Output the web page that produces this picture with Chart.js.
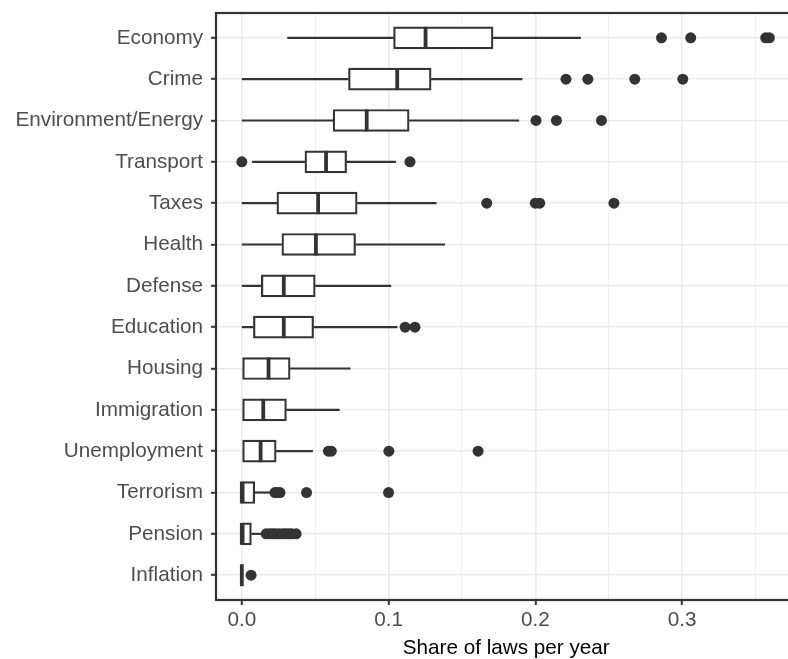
<!DOCTYPE html>
<html>
<head>
<meta charset="utf-8">
<script src="https://cdn.jsdelivr.net/npm/chart.js@4.4.1/dist/chart.umd.min.js"></script>
<style>
  html, body { margin: 0; padding: 0; background: #fff; overflow: hidden; width: 788px; height: 659px; }
  #wrap { width: 802px; height: 659px; }
</style>
</head>
<body>
<div id="wrap"><canvas id="c" width="802" height="659"></canvas></div>
<script>
// Topics, top to bottom
const topics = ['Economy', 'Crime', 'Environment/Energy', 'Transport', 'Taxes', 'Health', 'Defense',
  'Education', 'Housing', 'Immigration', 'Unemployment', 'Terrorism', 'Pension', 'Inflation'];

// Five-number summaries of the yearly share of laws
const lowerWhisker = [0.031, 0, 0, 0.007, 0, 0, 0, 0, 0, 0, 0, 0, 0, 0];
const q1           = [0.1034, 0.0727, 0.0622, 0.043, 0.0239, 0.0273, 0.0133, 0.0079, 0, 0, 0, 0, 0, 0];
const median       = [0.1252, 0.1059, 0.0851, 0.0574, 0.052, 0.0505, 0.0286, 0.0286, 0.0182, 0.0146, 0.0128, 0, 0, 0];
const q3           = [0.1712, 0.129, 0.114, 0.0714, 0.0786, 0.0775, 0.05, 0.0489, 0.0329, 0.0304, 0.0234, 0.0088, 0.0065, 0];
const upperWhisker = [0.2311, 0.1912, 0.189, 0.105, 0.1327, 0.1385, 0.1018, 0.106, 0.0741, 0.0667, 0.0484, 0.02, 0.014, 0];

// Years falling outside the whiskers
const outliers = [
  [0.286, 0.3059, 0.357, 0.3595],
  [0.2209, 0.2358, 0.2678, 0.3005],
  [0.2005, 0.2144, 0.2451],
  [0, 0.1146],
  [0.1669, 0.2, 0.203, 0.2536],
  [],
  [],
  [0.1113, 0.118],
  [],
  [],
  [0.059, 0.061, 0.1002, 0.161],
  [0.0226, 0.024, 0.026, 0.0441, 0.1],
  [0.0166, 0.019, 0.021, 0.023, 0.0255, 0.028, 0.030, 0.032, 0.034, 0.037],
  [0.0063]
];

// Axis breaks: major ticks are labelled, minor ones only get a grid line
const xBreaks = [0, 0.05, 0.1, 0.15, 0.2, 0.25, 0.3, 0.35];
const xMajorLabels = { '0': '0.0', '0.1': '0.1', '0.2': '0.2', '0.3': '0.3' };
const xTitle = 'Share of laws per year';

const INK = '#333333';
const GRID = '#EBEBEB';
const FONT = '"Liberation Sans", Arial, Helvetica, sans-serif';
const isMajor = v => Math.abs(v * 10 - Math.round(v * 10)) < 1e-9;
const BOX_H = 22;

Chart.defaults.font.family = FONT;

const boxParts = {
  id: 'boxParts',
  beforeDatasetsDraw(chart) {
    const { ctx, scales: { x, y } } = chart;
    ctx.save();
    ctx.strokeStyle = INK;
    ctx.lineWidth = 2.2;
    ctx.lineCap = 'butt';
    topics.forEach((t, i) => {
      const py = y.getPixelForValue(i);
      ctx.beginPath();
      ctx.moveTo(x.getPixelForValue(lowerWhisker[i]), py);
      ctx.lineTo(x.getPixelForValue(q1[i]), py);
      ctx.moveTo(x.getPixelForValue(q3[i]), py);
      ctx.lineTo(x.getPixelForValue(upperWhisker[i]), py);
      ctx.stroke();
    });
    ctx.restore();
  },
  afterDatasetsDraw(chart) {
    const { ctx, scales: { x, y } } = chart;
    ctx.save();
    ctx.strokeStyle = INK;
    ctx.lineWidth = 3.8;
    topics.forEach((t, i) => {
      const py = y.getPixelForValue(i);
      const px = x.getPixelForValue(median[i]);
      ctx.beginPath();
      ctx.moveTo(px, py - BOX_H / 2);
      ctx.lineTo(px, py + BOX_H / 2);
      ctx.stroke();
    });
    // panel border
    const a = chart.chartArea;
    ctx.lineWidth = 2.2;
    ctx.strokeRect(a.left, a.top, a.right - a.left, a.bottom - a.top);
    ctx.restore();
  }
};

new Chart(document.getElementById('c'), {
  type: 'bar',
  data: {
    datasets: [
      {
        type: 'bar',
        indexAxis: 'y',
        data: topics.map((t, i) => ({ x: [q1[i], q3[i]], y: i })),
        backgroundColor: '#FFFFFF',
        borderColor: INK,
        borderWidth: 2.2,
        borderSkipped: false,
        barThickness: BOX_H
      },
      {
        type: 'scatter',
        indexAxis: 'x',
        data: outliers.flatMap((vals, i) => vals.map(v => ({ x: v, y: i }))),
        backgroundColor: INK,
        borderWidth: 0,
        pointRadius: 5.5,
        pointHoverRadius: 5.5
      }
    ]
  },
  options: {
    indexAxis: 'y',
    responsive: false,
    animation: false,
    devicePixelRatio: 1,
    layout: { padding: { top: 13, left: 0, right: 0, bottom: 0 } },
    plugins: { legend: { display: false }, tooltip: { enabled: false } },
    scales: {
      x: {
        type: 'linear',
        position: 'bottom',
        offset: false,
        min: -0.0176,
        max: 0.378,
        afterBuildTicks: s => { s.ticks = xBreaks.map(v => ({ value: v })); },
        afterFit: s => { s.height = 59; s.paddingLeft = 0; s.paddingRight = 0; },
        border: { display: false },
        grid: {
          offset: false,
          color: GRID,
          lineWidth: c => (c.tick && isMajor(c.tick.value)) ? 1.6 : 0.8,
          tickColor: c => (c.tick && isMajor(c.tick.value)) ? INK : 'rgba(0,0,0,0)',
          tickLength: 5,
          tickWidth: 2
        },
        ticks: {
          autoSkip: false,
          maxRotation: 0,
          padding: 3,
          color: '#4D4D4D',
          font: { size: 20.7 },
          callback: v => xMajorLabels[String(Math.round(v * 100) / 100)] || ''
        },
        title: {
          display: true,
          text: xTitle,
          color: '#000000',
          font: { size: 20.7 },
          padding: { top: 0, bottom: -2 }
        }
      },
      y: {
        type: 'linear',
        position: 'left',
        reverse: true,
        offset: false,
        min: -0.6,
        max: 13.6,
        afterBuildTicks: s => { s.ticks = topics.map((t, i) => ({ value: i })); },
        afterFit: s => { s.width = 216; s.paddingTop = 0; s.paddingBottom = 0; },
        border: { display: false },
        grid: {
          offset: false,
          color: GRID,
          lineWidth: 1.6,
          tickColor: INK,
          tickLength: 5,
          tickWidth: 2
        },
        ticks: {
          autoSkip: false,
          padding: 8,
          color: '#4D4D4D',
          font: { size: 20.7 },
          callback: v => topics[v]
        }
      }
    }
  },
  plugins: [boxParts]
});
</script>
</body>
</html>
